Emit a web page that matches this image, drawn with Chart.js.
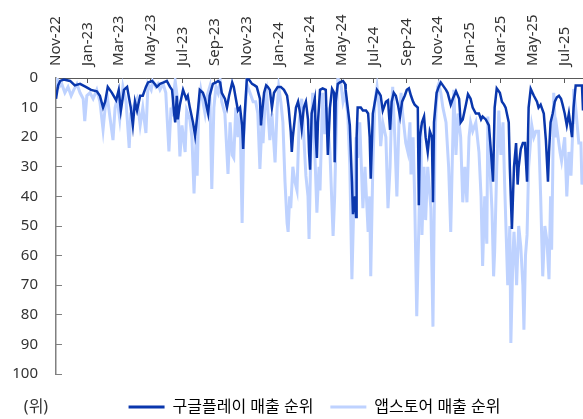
<!DOCTYPE html>
<html>
<head>
<meta charset="utf-8">
<script src="https://cdn.jsdelivr.net/npm/chart.js@4.4.1/dist/chart.umd.min.js"></script>
<style>
  html, body { margin: 0; padding: 0; background: #fff; }
  #chart { display: block; }
</style>
</head>
<body>
<canvas id="chart" width="583" height="419"></canvas>
<script>
// x values are days since 2022-11-01, y values are rank (1 = top)
const tickLabels = ['Nov-22', 'Jan-23', 'Mar-23', 'May-23', 'Jul-23', 'Sep-23', 'Nov-23', 'Jan-24', 'Mar-24',
    'May-24', 'Jul-24', 'Sep-24', 'Nov-24', 'Jan-25', 'Mar-25', 'May-25', 'Jul-25'];
const rankTicks = [0, 10, 20, 30, 40, 50, 60, 70, 80, 90, 100];
const seriesNames = ['구글플레이 매출 순위', '앱스토어 매출 순위'];
const unitLabel = '(위)';

const gpDays = [0, 4, 8, 15, 27, 36, 46, 57, 67, 78, 84, 90, 94, 99, 107, 115, 120, 124, 130, 136, 140, 143, 147, 151,
    155, 161, 166, 172, 176, 184, 189, 193, 199, 206, 212, 218, 222, 226, 228, 231, 233, 237, 243, 249, 252, 256, 262,
    266, 272, 275, 281, 285, 291, 294, 300, 306, 310, 314, 317, 323, 327, 331, 337, 340, 344, 348, 352, 356, 358, 361,
    365, 369, 375, 380, 384, 390, 392, 394, 398, 402, 405, 409, 413, 417, 424, 430, 436, 442, 445, 449, 451, 453, 459,
    463, 467, 470, 474, 478, 482, 484, 486, 489, 495, 497, 499, 501, 505, 510, 516, 520, 524, 528, 532, 533, 535, 539,
    543, 549, 553, 554, 558, 562, 566, 568, 572, 574, 575, 577, 583, 587, 593, 597, 600, 602, 606, 614, 618, 621, 625,
    631, 635, 639, 642, 646, 650, 654, 658, 662, 667, 671, 675, 679, 683, 686, 692, 694, 696, 700, 704, 707, 711, 715,
    719, 721, 723, 728, 732, 736, 740, 746, 749, 755, 759, 765, 771, 774, 778, 784, 788, 793, 797, 803, 809, 813, 816,
    822, 828, 832, 836, 839, 843, 849, 853, 857, 860, 866, 868, 872, 876, 880, 883, 885, 889, 893, 897, 901, 904, 908,
    914, 920, 923, 927, 929, 933, 937, 941, 943, 946, 950, 954, 958, 962, 966, 969, 973, 977, 981, 987, 990, 994, 1002,
    1006, 1008];
const gpRanks = [7, 2.5, 1, 0.5, 1, 2.5, 2, 3, 4, 4.5, 6, 10, 8, 3, 5, 7.5, 4, 11, 4, 3, 7, 10, 16, 8,
    11, 6, 6, 3, 1.5, 1, 2, 3, 2, 1.5, 1, 3, 4, 12, 15, 6, 14, 9, 4, 7, 6, 10, 15,
    19.5, 10, 4, 5, 7, 12, 6, 2, 1.5, 1, 1.5, 5, 7, 10, 6, 1.5, 3, 7, 11, 10, 16, 24, 12,
    0.5, 0.5, 2, 2.5, 3, 7, 16, 12, 5, 2.5, 3, 4, 10, 5, 3, 3, 4, 6, 10, 18, 25, 20, 10,
    8, 12, 17, 10, 8, 14, 25, 31, 12, 7, 20, 27, 15, 4, 3.5, 4, 26, 10, 3.7, 5, 28.5, 8, 2,
    1.5, 1, 2, 4, 10, 16, 35, 46, 40, 47, 20, 10, 10, 11, 11, 12, 20, 34, 12, 4, 5, 6, 11,
    8, 7.5, 17.5, 8, 5, 6, 9, 13, 8, 6, 4, 3.5, 6, 8, 9, 10, 43, 20, 15, 13, 20, 25, 18,
    20, 42, 15, 5, 3, 1.5, 2.5, 4, 5, 9, 7, 4.5, 7, 15, 14, 9, 5.5, 7, 10, 12, 12, 14, 13,
    14, 16, 25, 35, 10, 3.5, 5, 8, 9, 10, 15, 30, 51, 30, 22, 36, 30, 24, 22, 22, 35, 10, 3.7,
    6, 8, 10, 9, 10, 12, 21, 35, 25, 15, 12, 8, 6.5, 6, 7, 9, 12, 16, 12, 20, 10, 2.5, 2.5,
    2.5, 11];

const asDays = [0, 2, 6, 11, 17, 23, 29, 34, 40, 46, 52, 55, 59, 65, 71, 78, 84, 90, 94, 98, 103, 109, 113, 117,
    122, 128, 134, 140, 143, 147, 155, 161, 166, 172, 176, 182, 185, 191, 195, 199, 205, 210, 216, 220, 222, 226, 228,
    233, 237, 241, 247, 250, 256, 260, 264, 268, 270, 273, 277, 281, 285, 289, 294, 298, 302, 306, 310, 314, 317, 323,
    329, 333, 337, 340, 344, 348, 352, 356, 359, 365, 371, 377, 382, 386, 390, 394, 396, 400, 403, 409, 413, 419, 423,
    426, 430, 434, 438, 442, 444, 447, 449, 453, 457, 461, 465, 470, 474, 478, 482, 484, 488, 491, 495, 499, 503, 505,
    510, 514, 518, 524, 530, 533, 537, 539, 545, 549, 553, 558, 562, 566, 570, 574, 577, 581, 587, 591, 597, 600, 602,
    606, 610, 614, 618, 621, 625, 631, 635, 639, 642, 644, 648, 652, 656, 660, 663, 669, 673, 677, 679, 683, 686, 690,
    694, 698, 700, 704, 707, 711, 717, 721, 725, 727, 730, 732, 736, 740, 746, 751, 755, 759, 761, 765, 769, 774, 778,
    782, 786, 790, 793, 797, 803, 809, 813, 816, 820, 824, 826, 830, 834, 837, 839, 843, 847, 851, 855, 858, 864, 868,
    870, 874, 876, 880, 881, 885, 889, 893, 895, 898, 901, 904, 910, 914, 918, 923, 927, 931, 935, 939, 943, 946, 948,
    950, 952, 956, 958, 964, 967, 973, 977, 981, 985, 989, 990, 994, 1000, 1004, 1006, 1008];
const asRanks = [3, 0, 3, 2, 5, 3, 6, 4, 2, 5, 7, 14.6, 6, 5, 7, 4, 8, 17.5, 10, 6, 13, 21, 10, 7,
    14, 3, 8, 23.6, 12, 10, 7, 16, 10, 18.6, 2, 4, 1, 3, 2, 4, 2, 5, 24.8, 10, 13, 4, 1,
    8, 26.5, 16, 25, 11, 14, 20, 39, 20, 33, 10, 4, 8, 12, 6, 3, 37.5, 10, 3, 5, 1, 8, 12,
    32.4, 15, 26, 27, 10, 20, 12, 49, 20, 2, 5, 8, 8, 12, 30.7, 15, 22, 8, 5, 21, 12, 28.5, 10,
    3, 8, 15, 35, 49, 52, 40, 44, 30, 35, 38, 15, 7, 20, 33, 40, 54.4, 20, 5, 25, 45.5, 30, 38,
    5, 19, 10, 25, 53.4, 40, 10, 0, 2, 8, 5, 12, 30, 68, 40, 20, 27, 15, 44, 30, 52, 40, 67,
    30, 8, 3, 10, 23, 15, 20, 44, 30, 10, 3, 20, 40, 15, 5, 12, 22, 25, 15, 32.6, 20, 40, 80.5,
    50, 16, 53, 30, 48, 30, 44, 84, 20, 10, 3, 2, 5, 10, 15, 30, 52, 20, 4, 26, 12, 20, 42,
    30, 42, 20, 15, 18, 15, 25, 40, 63.5, 40, 56, 13, 30, 45, 67, 58.7, 30, 11, 26, 15, 35, 70, 50,
    89.5, 60, 52, 65, 70, 50, 57, 70, 85, 60, 53, 30, 16, 20, 18, 18, 40, 67, 50, 55, 68, 40, 58,
    33, 5, 20, 17, 25, 28, 20, 40, 25, 33, 15, 3.7, 10, 22, 22, 36, 30];

const gpColor = '#0a37ad';
const asColor = '#bed2ff';
const baseFont = "'Noto Sans', 'Noto Sans CJK KR', sans-serif";

function monthIndex(label) {
    const names = ['Jan', 'Feb', 'Mar', 'Apr', 'May', 'Jun', 'Jul', 'Aug', 'Sep', 'Oct', 'Nov', 'Dec'];
    const [mon, yy] = label.split('-');
    return (Date.UTC(2000 + Number(yy), names.indexOf(mon), 1) - Date.UTC(2022, 10, 1)) / 864e5;
}
const tickDays = tickLabels.map(monthIndex);

function toPoints(days, ranks) {
    return days.map((d, i) => ({x: d, y: ranks[i]}));
}

// vertical month labels above the top axis, the unit label and a nudge for the legend
const extrasPlugin = {
    id: 'chartExtras',
    afterLayout(chart) {
        const legend = chart.legend;
        legend.left += 23;
        legend.right += 23;
        legend.top += 8;
        legend.bottom += 8;
    },
    afterDraw(chart) {
        const ctx = chart.ctx;
        const xScale = chart.scales.x;
        ctx.save();
        ctx.font = `15px ${baseFont}`;
        ctx.fillStyle = '#333';
        ctx.textAlign = 'left';
        ctx.textBaseline = 'middle';
        tickDays.forEach((d, i) => {
            ctx.save();
            ctx.translate(xScale.getPixelForValue(d), chart.chartArea.top - 12);
            ctx.rotate(-Math.PI / 2);
            ctx.fillText(tickLabels[i], 0, 0);
            ctx.restore();
        });
        const box = chart.legend.legendHitBoxes[0];
        ctx.font = `16px ${baseFont}`;
        ctx.textAlign = 'center';
        ctx.fillText(unitLabel, 36, chart.legend.top + 17 + 8);
        ctx.restore();
    }
};

new Chart(document.getElementById('chart'), {
    type: 'line',
    data: {
        datasets: [
            {
                label: seriesNames[0],
                data: toPoints(gpDays, gpRanks),
                borderColor: gpColor,
                backgroundColor: gpColor,
                borderWidth: 2.5,
                pointRadius: 0,
                tension: 0
            },
            {
                label: seriesNames[1],
                data: toPoints(asDays, asRanks),
                borderColor: asColor,
                backgroundColor: asColor,
                borderWidth: 3,
                pointRadius: 0,
                tension: 0
            }
        ]
    },
    options: {
        responsive: false,
        animation: false,
        devicePixelRatio: 1,
        layout: {padding: {left: 0, right: 0, top: 0, bottom: 2}},
        plugins: {
            tooltip: {enabled: false},
            legend: {
                position: 'bottom',
                labels: {
                    boxWidth: 36,
                    boxHeight: 3,
                    padding: 17,
                    color: '#222',
                    font: {family: baseFont, size: 16},
                    generateLabels: chart => chart.data.datasets.map((d, i) => ({
                        text: d.label,
                        fillStyle: d.borderColor,
                        strokeStyle: d.borderColor,
                        lineWidth: 0,
                        hidden: false,
                        datasetIndex: i
                    }))
                }
            }
        },
        scales: {
            x: {
                type: 'linear',
                position: 'top',
                min: 0,
                max: 1008,
                afterBuildTicks: scale => {
                    scale.ticks = tickDays.map(v => ({value: v}));
                },
                afterFit: scale => {
                    scale.height = 78;
                },
                ticks: {display: false},
                grid: {drawOnChartArea: false, tickLength: -5, color: '#595959'},
                border: {color: '#595959', width: 1}
            },
            y: {
                reverse: true,
                min: 0,
                max: 100,
                afterBuildTicks: scale => {
                    scale.ticks = rankTicks.map(v => ({value: v}));
                },
                afterFit: scale => {
                    scale.width = 56;
                },
                ticks: {
                    padding: 24,
                    color: '#333',
                    font: {family: baseFont, size: 15}
                },
                grid: {drawOnChartArea: false, tickLength: -6, color: '#808080'},
                border: {color: '#808080', width: 1.5}
            }
        }
    },
    plugins: [extrasPlugin]
});
</script>
</body>
</html>
